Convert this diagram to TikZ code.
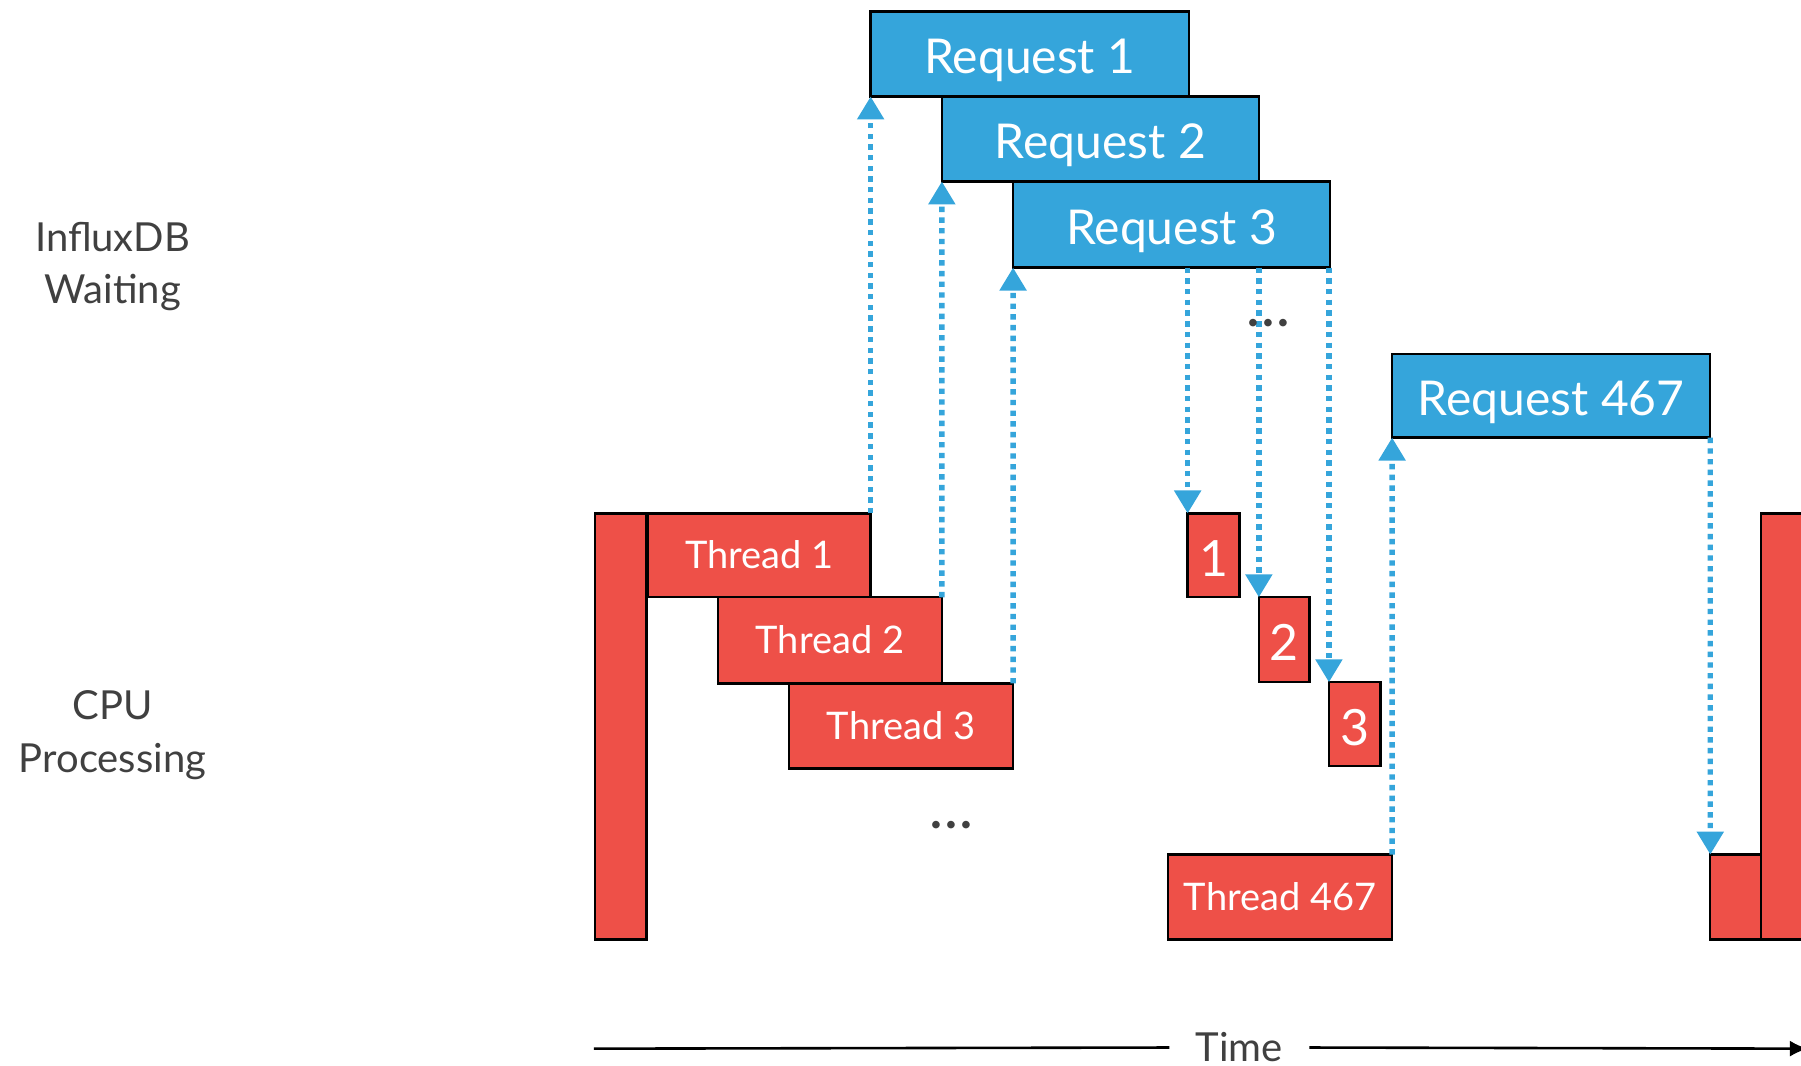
\documentclass[tikz,border=0pt]{standalone}
\usepackage{fontspec}
\setmainfont{Lato}
\usetikzlibrary{arrows.meta}
\definecolor{reqblue}{RGB}{53,165,219}
\definecolor{thrred}{RGB}{238,80,72}
\definecolor{labgray}{RGB}{64,64,64}
\begin{document}
\begin{tikzpicture}[x=0.5743pt,y=-0.5743pt,
  box/.style={draw=black,line width=1.2pt,anchor=north west,inner sep=0pt,outer sep=0pt,text=white},
  reqbox/.style={box,fill=reqblue,font=\fontsize{24}{28}\selectfont,text height=19.5pt,text depth=0pt},
  thrbox/.style={box,fill=thrred,font=\fontsize{19}{22}\selectfont,text height=13.6pt,text depth=0pt},
  numbox/.style={box,fill=thrred,font=\fontsize{25}{28}\selectfont,text height=21pt,text depth=0pt},
  dotline/.style={draw=reqblue,line width=2.7pt,dash pattern=on 2.7pt off 2.65pt,
     -{Triangle[width=13pt,length=11.5pt]}},
  sidelabel/.style={text=labgray,align=center,font=\fontsize{20}{26.4}\selectfont},
  ellip/.style={text=labgray,anchor=base,inner sep=0pt,font=\bfseries\fontsize{25}{28}\selectfont},
  timeline/.style={draw=black,line width=1.3pt}
]
\useasboundingbox (0,0) rectangle (1568,928);

% requests
\node[reqbox,minimum width={(1035-758)*0.5743pt},minimum height={(84-10)*0.5743pt}] (r1) at (758,10) {Request 1};
\node[reqbox,minimum width={(1096-820)*0.5743pt},minimum height={(158-84)*0.5743pt}] (r2) at (820,84) {Request 2};
\node[reqbox,minimum width={(1158-882)*0.5743pt},minimum height={(233-158)*0.5743pt}] (r3) at (882,158) {Request 3};
\node[reqbox,minimum width={(1489-1212)*0.5743pt},minimum height={(381-308)*0.5743pt}] (r467) at (1212,308) {Request 467};

% CPU
\node[thrbox,minimum width={(563-518)*0.5743pt},minimum height={(818-447)*0.5743pt}] (mainL) at (518,447) {};
\node[thrbox,minimum width={(758-564)*0.5743pt},minimum height={(520-447)*0.5743pt}] (t1) at (564,447) {Thread 1};
\node[thrbox,minimum width={(820-625)*0.5743pt},minimum height={(595-520)*0.5743pt}] (t2) at (625,520) {Thread 2};
\node[thrbox,minimum width={(882-687)*0.5743pt},minimum height={(669-595)*0.5743pt}] (t3) at (687,595) {Thread 3};
\node[numbox,minimum width={(1079-1034)*0.5743pt},minimum height={(520-447)*0.5743pt}] (b1) at (1034,447) {1};
\node[numbox,minimum width={(1140-1096)*0.5743pt},minimum height={(594-520)*0.5743pt}] (b2) at (1096,520) {2};
\node[numbox,minimum width={(1202-1157)*0.5743pt},minimum height={(667-594)*0.5743pt}] (b3) at (1157,594) {3};
\node[thrbox,minimum width={(1212-1017)*0.5743pt},minimum height={(818-744)*0.5743pt}] (t467) at (1017,744) {Thread 467};
\node[thrbox,minimum width={(1533-1489)*0.5743pt},minimum height={(818-744)*0.5743pt}] (endS) at (1489,744) {};
\node[thrbox,minimum width={(1600-1533)*0.5743pt},minimum height={(818-447)*0.5743pt}] (mainR) at (1533,447) {};

% arrows up
\draw[dotline] (t1.north east) -- (r1.south west);
\draw[dotline] (t2.north east) -- (r2.south west);
\draw[dotline] (t3.north east) -- (r3.south west);
\draw[dotline] (t467.north east) -- (r467.south west);
% arrows down
\coordinate (d1) at (b1.north west |- r3.south);
\coordinate (d2) at (b2.north west |- r3.south);
\coordinate (d3) at (b3.north west |- r3.south);
\draw[dotline] (d1) -- (b1.north west);
\draw[dotline] (d2) -- (b2.north west);
\draw[dotline] (d3) -- (b3.north west);
\draw[dotline] (r467.south east) -- (endS.north west);

% ellipses
\node[ellip] (e1) at (1104,284) {.\kern1.5pt.\kern1.5pt.};
\node[ellip] (e2) at (828.5,721) {.\kern1.5pt.\kern1.5pt.};

% side labels
\node[sidelabel] (lw) at (98,232) {InfluxDB\\Waiting};
\node[sidelabel] (lc) at (98,640) {CPU\\Processing};

% time axis
\coordinate (ts) at (517,913);
\coordinate (te) at (1574,913);
\node[text=labgray,font=\fontsize{20}{24}\selectfont,inner sep=0pt] (tl) at (1079,912) {Time};
\draw[timeline] (ts) -- ([xshift=-13pt]tl.west);
\draw[timeline,-{Latex[length=9pt,width=8pt]}] ([xshift=13pt]tl.east) -- (te);
\end{tikzpicture}
\end{document}
